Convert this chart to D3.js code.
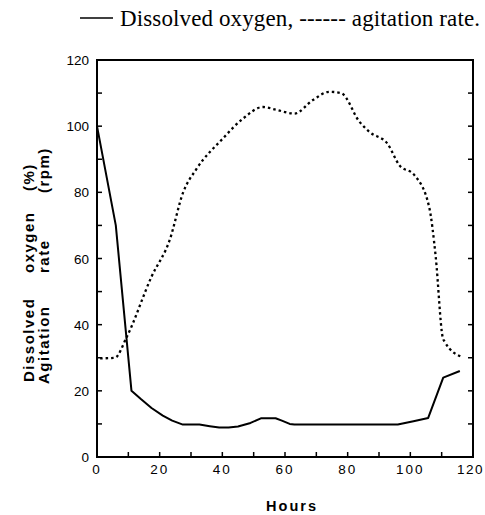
<!DOCTYPE html>
<html><head><meta charset="utf-8">
<script src="https://cdn.jsdelivr.net/npm/d3@7"></script>
<style>body{margin:0;background:#fff}svg{display:block}</style>
</head><body>
<svg id="c" width="485" height="515"></svg>
<script>
const hours = [0, 6, 11, 14, 17.4, 21, 24, 27.4, 32.7, 36, 39, 42, 45, 49, 52.3, 57, 59, 61.5, 63, 96, 101, 105.7, 110.5, 115.8];
const dissolvedOxygen = [100, 70, 20, 17.5, 14.8, 12.5, 11, 9.8, 9.8, 9.3, 8.9, 8.9, 9.2, 10.3, 11.7, 11.7, 11, 10, 9.8, 9.8, 10.8, 11.8, 24, 26];
const agitationHours = [1, 5.7, 9.5, 17.4, 23.2, 27.5, 31.7, 40.2, 46.6, 53, 57, 63, 68.9, 74.2, 77.9, 83.8, 86.9, 92.7, 96.5, 101.3, 106, 108.1, 110.3, 111, 116.3];
const agitationRate = [29.8, 30, 36.3, 54.5, 65.6, 80, 87, 96.3, 102.3, 105.8, 105, 103.8, 107.9, 110.4, 110, 101.3, 98.3, 94.7, 88.2, 85.2, 75.6, 60.5, 36.3, 34.8, 30.3];
const xTickLabels = [0, 20, 40, 60, 80, 100, 120];
const yTickLabels = [0, 20, 40, 60, 80, 100, 120];

const svg = d3.select("#c");
const L = 97, R = 473, T = 60, B = 457;
const x = d3.scaleLinear().domain([0, 120]).range([L, R]);
const y = d3.scaleLinear().domain([0, 120]).range([B, T]);

// frame
svg.append("rect").attr("x", L).attr("y", T).attr("width", R - L).attr("height", B - T)
  .attr("fill", "none").attr("stroke", "#000").attr("stroke-width", 2);

// ticks (inward)
const minor = d3.range(0, 121, 10);
const tk = svg.append("g").attr("stroke", "#000").attr("stroke-width", 1.5);
minor.forEach(v => {
  tk.append("line").attr("x1", x(v)).attr("x2", x(v)).attr("y1", B).attr("y2", B - 5);
  tk.append("line").attr("x1", L).attr("x2", L + 5).attr("y1", y(v)).attr("y2", y(v));
  tk.append("line").attr("x1", R).attr("x2", R - 5).attr("y1", y(v)).attr("y2", y(v));
});

const tf = "'Liberation Sans', Arial, sans-serif";
svg.append("g").selectAll("text").data(xTickLabels).join("text")
  .attr("x", d => d === 120 ? 484 : x(d)).attr("y", 474)
  .attr("text-anchor", d => d === 120 ? "end" : "middle")
  .attr("font-family", tf).attr("font-size", 13.5).attr("letter-spacing", d => d === 120 ? 1.5 : 2)
  .text(d => d);
svg.append("g").selectAll("text").data(yTickLabels).join("text")
  .attr("x", 89).attr("y", d => y(d) + 5).attr("text-anchor", "end")
  .attr("font-family", tf).attr("font-size", 13.5)
  .text(d => d);

// lines
const doLine = d3.line().x((d, i) => x(hours[i])).y(d => y(d));
svg.append("path").datum(dissolvedOxygen).attr("d", doLine)
  .attr("fill", "none").attr("stroke", "#000").attr("stroke-width", 2).attr("stroke-linejoin", "round");
const agLine = d3.line().x((d, i) => x(agitationHours[i])).y(d => y(d)).curve(d3.curveMonotoneX);
svg.append("path").datum(agitationRate).attr("d", agLine)
  .attr("fill", "none").attr("stroke", "#000").attr("stroke-width", 2.3)
  .attr("stroke-dasharray", "2.5,3");

// axis titles
svg.append("text").attr("x", 292).attr("y", 511).attr("text-anchor", "middle")
  .attr("font-family", tf).attr("font-weight", "bold").attr("font-size", 14.5)
  .attr("letter-spacing", 2).text("Hours");

const words1 = [["Dissolved", 382], ["oxygen", 273], ["(%)", 191]];
const words2 = [["Agitation", 384], ["rate", 273], ["(rpm)", 193]];
[[words1, 34], [words2, 49]].forEach(([ws, bx]) => {
  ws.forEach(([w, yy]) => {
    svg.append("text").attr("transform", `translate(${bx},${yy}) rotate(-90)`)
      .attr("font-family", tf).attr("font-weight", "bold").attr("font-size", 15)
      .attr("letter-spacing", 1.5).text(w);
  });
});

// legend
svg.append("line").attr("x1", 80).attr("x2", 113).attr("y1", 18).attr("y2", 18)
  .attr("stroke", "#000").attr("stroke-width", 1.3);
svg.append("text").attr("x", 120).attr("y", 26)
  .attr("font-family", "'Liberation Serif', 'Times New Roman', serif").attr("font-size", 23)
  .attr("textLength", 360).attr("lengthAdjust", "spacing")
  .text("Dissolved oxygen, ------ agitation rate.");
</script>
</body></html>
